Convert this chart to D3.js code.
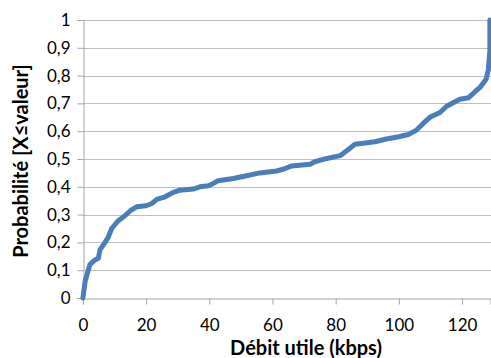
<!DOCTYPE html>
<html><head><meta charset="utf-8">
<script src="https://cdn.jsdelivr.net/npm/d3@7"></script>
<style>body{margin:0;background:#fff;}svg{display:block;}</style>
</head><body>
<svg id="c" width="491" height="358"></svg>
<script>
const debit = [0, 0.7, 2.2, 3.8, 4.9, 5.4, 7, 8, 9.1, 11.2, 13.3, 14.9, 17, 20, 21.8, 23.4, 26, 28.6, 30.7, 34.9, 37, 39.7, 41.3, 42.8, 47.6, 51.8, 56, 61.3, 63.4, 66.1, 71.9, 73.4, 77.2, 81.4, 83.5, 86.1, 92.4, 96, 100, 103, 105.6, 107.7, 109.8, 113, 115.1, 119.3, 122, 124.1, 125.7, 127.6, 128.3, 128.8, 128.8];
const proba = [0, 0.06, 0.12, 0.137, 0.143, 0.173, 0.2, 0.218, 0.25, 0.278, 0.296, 0.313, 0.328, 0.332, 0.34, 0.355, 0.364, 0.38, 0.388, 0.392, 0.4, 0.404, 0.412, 0.422, 0.43, 0.44, 0.45, 0.457, 0.463, 0.475, 0.481, 0.49, 0.502, 0.512, 0.53, 0.553, 0.562, 0.572, 0.58, 0.588, 0.604, 0.628, 0.65, 0.667, 0.69, 0.715, 0.72, 0.742, 0.758, 0.787, 0.82, 0.89, 1.0];
const xTicks = [0, 20, 40, 60, 80, 100, 120];
const yTicks = [0, 0.1, 0.2, 0.3, 0.4, 0.5, 0.6, 0.7, 0.8, 0.9, 1];

const svg = d3.select("#c");
const x = d3.scaleLinear().domain([0, 129]).range([82.9, 490.5]);
const y = d3.scaleLinear().domain([0, 1]).range([298, 20]);
const font = "Lato, 'Open Sans', sans-serif";

// gridlines
svg.append("g").selectAll("line").data(yTicks.filter(d => d > 0)).join("line")
  .attr("x1", x(0)).attr("x2", 491)
  .attr("y1", d => Math.round(y(d)) + 0.5).attr("y2", d => Math.round(y(d)) + 0.5)
  .attr("stroke", "#bfbfbf").attr("stroke-width", 1);

// y axis
const yAxis = svg.append("g").attr("transform", `translate(${Math.round(x(0)) + 0.5},0)`)
  .call(d3.axisLeft(y).tickValues(yTicks).tickSize(6).tickPadding(7)
    .tickFormat(d => d3.format(".1~f")(d).replace(".", ",")));
yAxis.select(".domain").attr("stroke", "#a6a6a6");
yAxis.selectAll(".tick line").attr("stroke", "#a6a6a6");
yAxis.selectAll("text").attr("font-family", font).attr("font-size", 17).attr("fill", "#000");

// x axis
const xAxis = svg.append("g").attr("transform", `translate(0,${Math.round(y(0)) + 0.5})`)
  .call(d3.axisBottom(x).tickValues(xTicks).tickSize(6).tickPadding(14));
xAxis.select(".domain").attr("stroke", "#a6a6a6");
xAxis.selectAll(".tick line").attr("stroke", "#a6a6a6");
xAxis.selectAll("text").attr("font-family", font).attr("font-size", 17).attr("fill", "#000");

// curve
const pts = debit.map((d, i) => [d, proba[i]]);
svg.append("path").datum(pts)
  .attr("fill", "none").attr("stroke", "#4a7ebb").attr("stroke-width", 5)
  .attr("stroke-linejoin", "round").attr("stroke-linecap", "round")
  .attr("d", d3.line().x(d => x(d[0])).y(d => y(d[1])));

// titles
svg.append("text").attr("x", 306).attr("y", 355).attr("text-anchor", "middle")
  .attr("font-family", font).attr("font-weight", "bold").attr("font-size", 20)
  .text("Débit utile (kbps)");
svg.append("text").attr("transform", "translate(28,161) rotate(-90)").attr("text-anchor", "middle")
  .attr("font-family", font).attr("font-weight", "bold").attr("font-size", 20)
  .text("Probabilité [X≤valeur]");
</script>
</body></html>
